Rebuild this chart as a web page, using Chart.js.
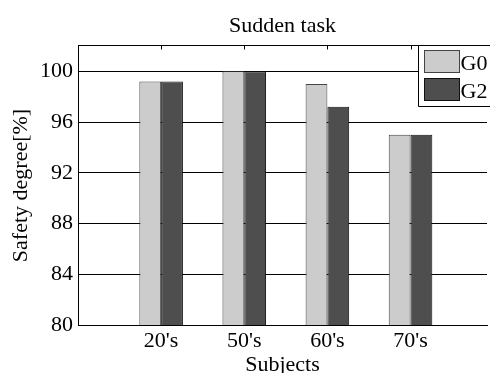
<!DOCTYPE html>
<html>
<head>
<meta charset="utf-8">
<script src="https://cdn.jsdelivr.net/npm/chart.js@4/dist/chart.umd.min.js"></script>
<style>
  html, body { margin: 0; padding: 0; background: #fff; overflow: hidden; }
  #wrap { position: absolute; left: 0; top: 0; width: 490px; height: 373px; }
</style>
</head>
<body>
<div id="wrap"><canvas id="chart" width="490" height="373"></canvas></div>
<script>
// ====================== DATA ======================
const categories = ["20's", "50's", "60's", "70's"];
const seriesNames = ["G0", "G2"];
const g0Values = [99.2, 100, 99.0, 95.0];
const g2Values = [99.2, 100, 97.2, 95.0];
const yMin = 80, yMax = 102, yStep = 4;

const FONT = "'Liberation Serif', 'Times New Roman', serif";
const barColors = ["#cccccc", "#4e4e4e"];
const barBorders = ["#444444", "#111111"];

// category i sits at x = i + 1; the axis is cut at the picture's right edge
const xMax = 4.92;
function toPoints(values) {
    return values.map((v, i) => ({ x: i + 1, y: v }));
}

// ====================== FRAME + LEGEND ======================
const framePlugin = {
    id: "frame",
    afterDraw(chart) {
        const { ctx, chartArea, scales } = chart;
        const top = Math.round(chartArea.top) - 0.5;
        ctx.save();
        ctx.strokeStyle = "#000";
        ctx.lineWidth = 1;
        // top border
        ctx.beginPath();
        ctx.moveTo(chartArea.left, top);
        ctx.lineTo(chartArea.right, top);
        ctx.stroke();
        // small tick marks on top border
        categories.forEach((c, i) => {
            const x = Math.round(scales.x.getPixelForValue(i + 1)) + 0.5;
            ctx.beginPath();
            ctx.moveTo(x, top);
            ctx.lineTo(x, top + 4);
            ctx.stroke();
        });

        // legend box (runs off the right edge like the original)
        const lx = Math.round(chartArea.right - 69) + 0.5;
        ctx.fillStyle = "#fff";
        ctx.fillRect(lx, top, 80, 61);
        ctx.beginPath();
        ctx.moveTo(lx + 80, top);
        ctx.lineTo(lx, top);
        ctx.lineTo(lx, top + 61);
        ctx.lineTo(lx + 80, top + 61);
        ctx.stroke();
        ctx.font = "22px " + FONT;
        ctx.textBaseline = "alphabetic";
        seriesNames.forEach((name, i) => {
            const sy = top + 5 + i * 28;
            ctx.fillStyle = barColors[i];
            ctx.fillRect(lx + 6, sy, 35, 22);
            ctx.strokeStyle = barBorders[i];
            ctx.strokeRect(lx + 6, sy, 35, 22);
            ctx.fillStyle = "#000";
            ctx.fillText(name, lx + 42, top + 24 + i * 28);
        });
        ctx.restore();
    }
};

// ====================== CHART ======================
new Chart(document.getElementById("chart"), {
    type: "bar",
    data: {
        datasets: [
            { label: seriesNames[0], data: toPoints(g0Values), backgroundColor: barColors[0], borderColor: barBorders[0], borderWidth: 1 },
            { label: seriesNames[1], data: toPoints(g2Values), backgroundColor: barColors[1], borderColor: barBorders[1], borderWidth: 1 }
        ]
    },
    options: {
        responsive: false,
        animation: false,
        devicePixelRatio: 1,
        categoryPercentage: 0.57,
        barPercentage: 1.0,
        layout: { padding: 0 },
        plugins: {
            legend: { display: false },
            tooltip: { enabled: false },
            title: {
                display: true,
                fullSize: false,
                text: "Sudden task",
                color: "#000",
                font: { family: FONT, size: 22, weight: "normal", lineHeight: 1 },
                padding: { top: 15, bottom: 9 }
            }
        },
        scales: {
            x: {
                type: "linear",
                min: 0,
                max: xMax,
                offset: false,
                grid: { display: false, offset: false, drawTicks: false },
                border: { display: true, color: "#000", width: 1 },
                ticks: {
                    stepSize: 1,
                    autoSkip: false,
                    maxRotation: 0,
                    padding: 3,
                    color: "#000",
                    font: { family: FONT, size: 22 },
                    callback: v => categories[v - 1] || ""
                },
                title: {
                    display: true,
                    text: "Subjects",
                    color: "#000",
                    font: { family: FONT, size: 22, lineHeight: 1 },
                    padding: { top: 0, bottom: -3 }
                },
                afterFit: scale => { scale.height = 48; }
            },
            y: {
                min: yMin,
                max: yMax,
                grid: { color: "#000", lineWidth: 1, drawTicks: false },
                border: { display: true, color: "#000", width: 1 },
                ticks: {
                    stepSize: yStep,
                    includeBounds: false,
                    padding: 5,
                    color: "#000",
                    font: { family: FONT, size: 22 }
                },
                title: {
                    display: true,
                    text: "Safety degree[%]",
                    color: "#000",
                    font: { family: FONT, size: 22, lineHeight: 1 },
                    padding: { top: 10, bottom: 0 }
                },
                afterFit: scale => { scale.width = 78; }
            }
        }
    },
    plugins: [framePlugin]
});
</script>
</body>
</html>
